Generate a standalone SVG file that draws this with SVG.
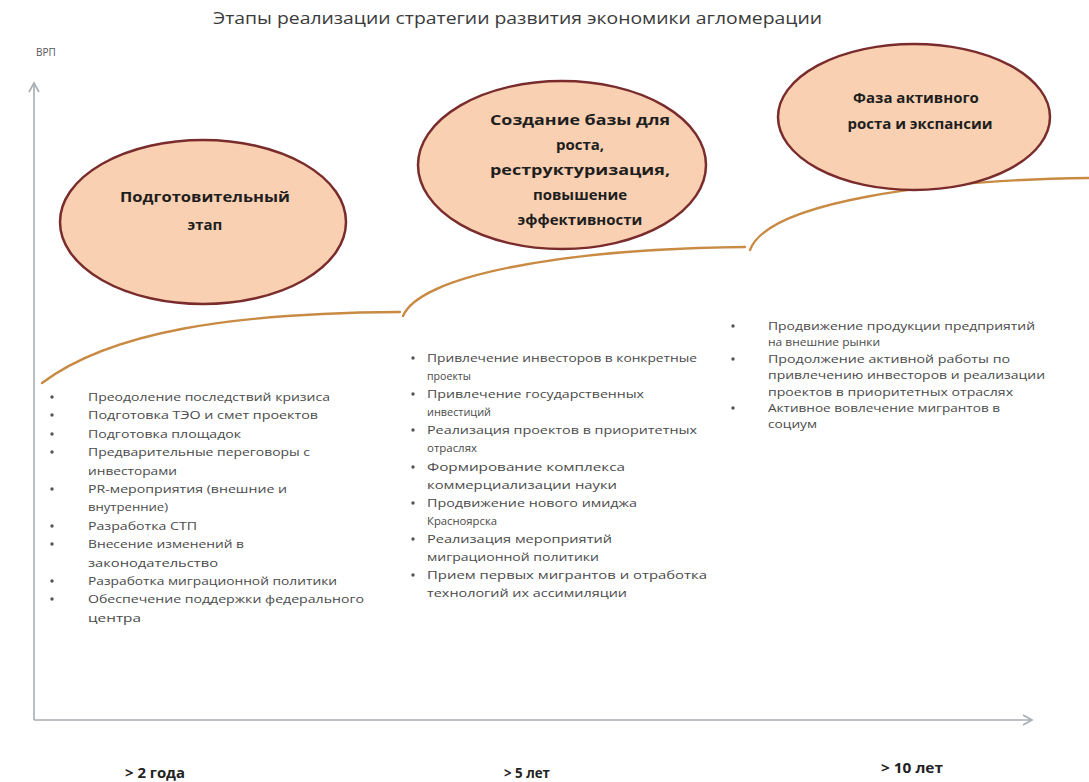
<svg xmlns="http://www.w3.org/2000/svg" width="1089" height="782" viewBox="0 0 1089 782">
<style>
  text { font-family: "Open Sans", "DejaVu Sans", sans-serif; }
  .title { font-size: 16px; fill: #3a3a3a; }
  .ax { font-size: 10px; fill: #555; }
  .body { font-size: 11px; fill: #4a4a4a; }
  .bold { font-size: 15px; font-weight: bold; fill: #1e1e1e; text-anchor: middle; }
  .lbl { font-size: 14px; font-weight: bold; fill: #222; text-anchor: middle; }
  .ell { fill: #f9d0b2; stroke: #7a2c2c; stroke-width: 2.5; }
  .curve { fill: none; stroke: #c98a44; stroke-width: 2.3; stroke-linecap: round; }
  .axis { fill: none; stroke: #a8adb3; stroke-width: 1.6; }
  .dot { fill: #555; }
</style>

<text class="title" x="213" y="24" textLength="609" lengthAdjust="spacingAndGlyphs">Этапы реализации стратегии развития экономики агломерации</text>

<g id="axes">
  <text class="ax" x="36" y="56">ВРП</text>
  <line class="axis" x1="34" y1="720" x2="34" y2="84"/>
  <polyline class="axis" points="29,92 34,83 39,92"/>
  <line class="axis" x1="34" y1="720" x2="1031" y2="720"/>
  <polyline class="axis" points="1023,715 1032,720 1023,725"/>
  <text class="lbl" x="155" y="778" textLength="60" lengthAdjust="spacingAndGlyphs">&gt; 2 года</text>
  <text class="lbl" x="527" y="778" textLength="46" lengthAdjust="spacingAndGlyphs">&gt; 5 лет</text>
  <text class="lbl" x="912" y="773" textLength="62" lengthAdjust="spacingAndGlyphs">&gt; 10 лет</text>
</g>

<g id="connectors">
  <path class="curve" d="M42,383 C110,332 230,313 400,312"/>
  <path class="curve" d="M403,316 C420,276 560,249 745,247"/>
  <path class="curve" d="M750,250 C768,202 930,180 1089,178"/>
</g>

<g id="stage1">
  <ellipse class="ell" cx="203" cy="222" rx="143" ry="82"/>
  <text class="bold" x="205" y="202" textLength="170" lengthAdjust="spacingAndGlyphs">Подготовительный</text>
  <text class="bold" x="205" y="230">этап</text>
</g>

<g id="stage2">
  <ellipse class="ell" cx="562" cy="165" rx="144" ry="84"/>
  <text class="bold" x="580" y="125" textLength="180" lengthAdjust="spacingAndGlyphs">Создание базы для</text>
  <text class="bold" x="580" y="150">роста,</text>
  <text class="bold" x="580" y="175" textLength="180" lengthAdjust="spacingAndGlyphs">реструктуризация,</text>
  <text class="bold" x="580" y="200">повышение</text>
  <text class="bold" x="580" y="225">эффективности</text>
</g>

<g id="stage3">
  <ellipse class="ell" cx="914" cy="117" rx="136" ry="73"/>
  <text class="bold" x="916" y="103">Фаза активного</text>
  <text class="bold" x="920" y="129">роста и экспансии</text>
</g>

<g id="list1">
  <circle class="dot" cx="52" cy="397" r="1.7"/>
  <circle class="dot" cx="52" cy="415" r="1.7"/>
  <circle class="dot" cx="52" cy="434" r="1.7"/>
  <circle class="dot" cx="52" cy="452" r="1.7"/>
  <circle class="dot" cx="52" cy="489" r="1.7"/>
  <circle class="dot" cx="52" cy="526" r="1.7"/>
  <circle class="dot" cx="52" cy="544" r="1.7"/>
  <circle class="dot" cx="52" cy="581" r="1.7"/>
  <circle class="dot" cx="52" cy="599" r="1.7"/>
  <text class="body" x="88" y="401" textLength="242" lengthAdjust="spacingAndGlyphs">Преодоление  последствий кризиса</text>
  <text class="body" x="88" y="419" textLength="230" lengthAdjust="spacingAndGlyphs">Подготовка ТЭО и смет проектов</text>
  <text class="body" x="88" y="438" textLength="153" lengthAdjust="spacingAndGlyphs">Подготовка площадок</text>
  <text class="body" x="88" y="456" textLength="222" lengthAdjust="spacingAndGlyphs">Предварительные  переговоры с</text>
  <text class="body" x="88" y="475" textLength="89" lengthAdjust="spacingAndGlyphs">инвесторами</text>
  <text class="body" x="88" y="493" textLength="199" lengthAdjust="spacingAndGlyphs">PR-мероприятия  (внешние  и</text>
  <text class="body" x="88" y="511" textLength="80" lengthAdjust="spacingAndGlyphs">внутренние)</text>
  <text class="body" x="88" y="530" textLength="109" lengthAdjust="spacingAndGlyphs">Разработка  СТП</text>
  <text class="body" x="88" y="548" textLength="156" lengthAdjust="spacingAndGlyphs">Внесение  изменений  в</text>
  <text class="body" x="88" y="567" textLength="130" lengthAdjust="spacingAndGlyphs">законодательство</text>
  <text class="body" x="88" y="585" textLength="249" lengthAdjust="spacingAndGlyphs">Разработка миграционной политики</text>
  <text class="body" x="88" y="603" textLength="276" lengthAdjust="spacingAndGlyphs">Обеспечение  поддержки  федерального</text>
  <text class="body" x="88" y="622" textLength="53" lengthAdjust="spacingAndGlyphs">центра</text>
</g>

<g id="list2">
  <circle class="dot" cx="413" cy="358" r="1.7"/>
  <circle class="dot" cx="413" cy="394" r="1.7"/>
  <circle class="dot" cx="413" cy="430" r="1.7"/>
  <circle class="dot" cx="413" cy="467" r="1.7"/>
  <circle class="dot" cx="413" cy="503" r="1.7"/>
  <circle class="dot" cx="413" cy="539" r="1.7"/>
  <circle class="dot" cx="413" cy="575" r="1.7"/>
  <text class="body" x="427" y="362" textLength="270" lengthAdjust="spacingAndGlyphs">Привлечение  инвесторов в конкретные</text>
  <text class="body" x="427" y="380" textLength="44" lengthAdjust="spacingAndGlyphs">проекты</text>
  <text class="body" x="427" y="398" textLength="217" lengthAdjust="spacingAndGlyphs">Привлечение  государственных</text>
  <text class="body" x="427" y="416" textLength="64" lengthAdjust="spacingAndGlyphs">инвестиций</text>
  <text class="body" x="427" y="434" textLength="270" lengthAdjust="spacingAndGlyphs">Реализация проектов  в приоритетных</text>
  <text class="body" x="427" y="452" textLength="50" lengthAdjust="spacingAndGlyphs">отраслях</text>
  <text class="body" x="427" y="471" textLength="198" lengthAdjust="spacingAndGlyphs">Формирование  комплекса</text>
  <text class="body" x="427" y="489" textLength="190" lengthAdjust="spacingAndGlyphs">коммерциализации науки</text>
  <text class="body" x="427" y="507" textLength="210" lengthAdjust="spacingAndGlyphs">Продвижение  нового имиджа</text>
  <text class="body" x="427" y="525" textLength="70" lengthAdjust="spacingAndGlyphs">Красноярска</text>
  <text class="body" x="427" y="543" textLength="185" lengthAdjust="spacingAndGlyphs">Реализация мероприятий</text>
  <text class="body" x="427" y="561" textLength="172" lengthAdjust="spacingAndGlyphs">миграционной политики</text>
  <text class="body" x="427" y="579" textLength="280" lengthAdjust="spacingAndGlyphs">Прием первых мигрантов и отработка</text>
  <text class="body" x="427" y="597" textLength="200" lengthAdjust="spacingAndGlyphs">технологий их ассимиляции</text>
</g>

<g id="list3">
  <circle class="dot" cx="733" cy="326" r="1.7"/>
  <circle class="dot" cx="733" cy="359" r="1.7"/>
  <circle class="dot" cx="733" cy="408" r="1.7"/>
  <text class="body" x="768" y="330" textLength="267" lengthAdjust="spacingAndGlyphs">Продвижение  продукции предприятий</text>
  <text class="body" x="768" y="346" textLength="112" lengthAdjust="spacingAndGlyphs">на внешние  рынки</text>
  <text class="body" x="768" y="363" textLength="242" lengthAdjust="spacingAndGlyphs">Продолжение  активной работы по</text>
  <text class="body" x="768" y="379" textLength="277" lengthAdjust="spacingAndGlyphs">привлечению  инвесторов и реализации</text>
  <text class="body" x="768" y="396" textLength="245" lengthAdjust="spacingAndGlyphs">проектов в приоритетных отраслях</text>
  <text class="body" x="768" y="412" textLength="232" lengthAdjust="spacingAndGlyphs">Активное  вовлечение  мигрантов в</text>
  <text class="body" x="768" y="428" textLength="49" lengthAdjust="spacingAndGlyphs">социум</text>
</g>
</svg>
